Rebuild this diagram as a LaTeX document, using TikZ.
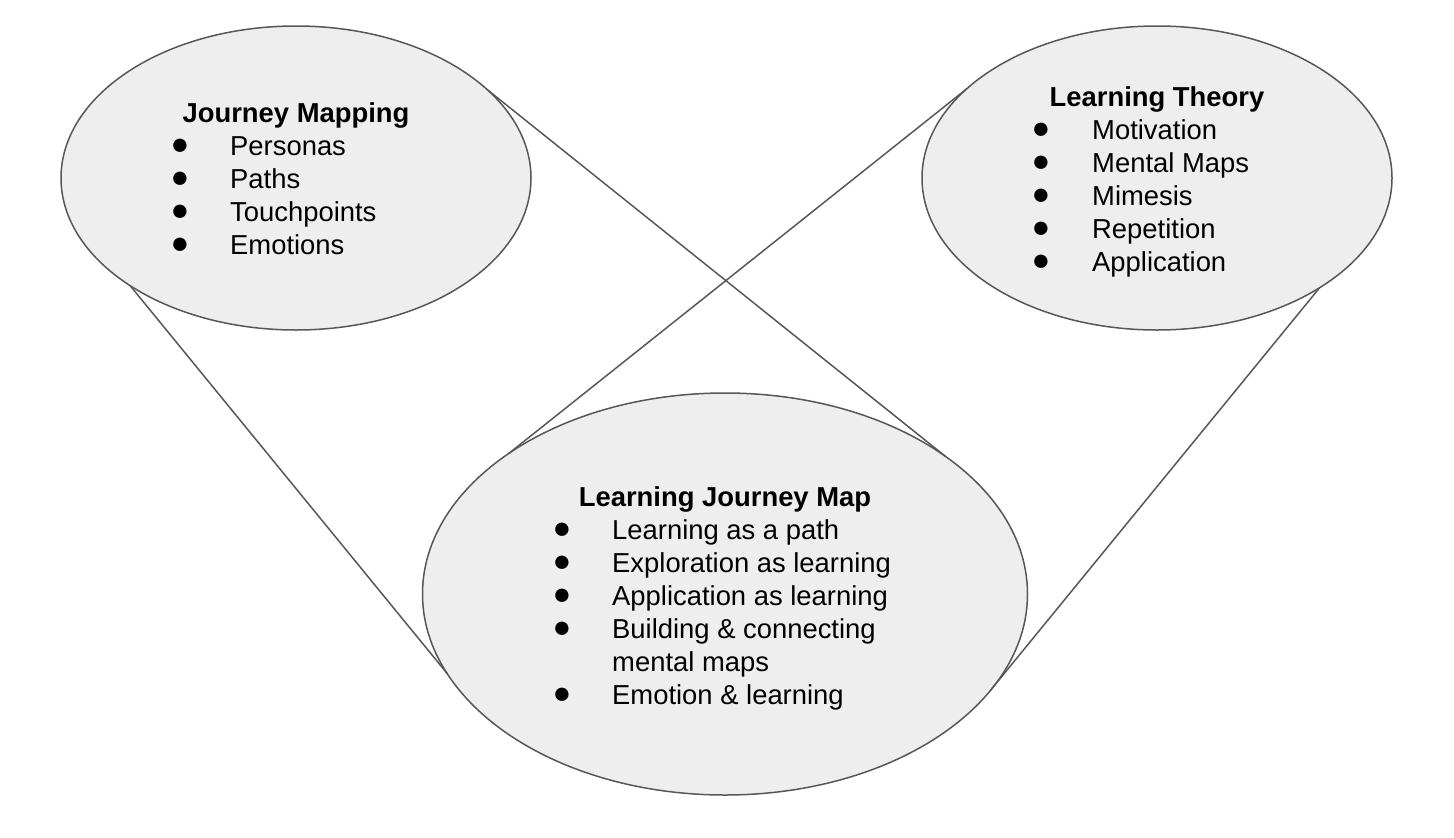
\documentclass[tikz,border=0pt]{standalone}
\usepackage{fontspec}
\setmainfont{Liberation Sans}
\usetikzlibrary{shapes.geometric}
\definecolor{ellfill}{HTML}{EEEEEE}
\definecolor{ellline}{HTML}{575757}
\tikzset{
  bubble/.style={ellipse, draw=ellline, fill=ellfill, line width=1.5pt, inner sep=0pt, outer sep=0pt},
  link/.style={draw=ellline, line width=1.5pt},
  title/.style={anchor=base, font=\fontsize{27.4}{33}\selectfont\bfseries, inner sep=0pt},
  item/.style={anchor=base west, font=\fontsize{27.4}{33}\selectfont, inner sep=0pt, align=left},
  dot/.style={anchor=base, font=\fontsize{31}{33}\selectfont, inner sep=0pt, yshift=1pt},
}
\begin{document}
\begin{tikzpicture}[x=1pt,y=-1pt]
\useasboundingbox (0,0) rectangle (1454,838);
\node[bubble, minimum width=470, minimum height=304] (jm) at (296,178) {};
\node[bubble, minimum width=470, minimum height=304] (lt) at (1157,178) {};
\node[bubble, minimum width=605, minimum height=402] (ljm) at (725,594) {};
\draw[link] (jm.213.4) -- (ljm.196);
\draw[link] (jm.25.4) -- (ljm.32.7);
\draw[link] (lt.155.2) -- (ljm.147.3);
\draw[link] (lt.326.7) -- (ljm.340.4);
% Journey Mapping
\node[title] (jmt) at (296,122) {Journey Mapping};
\node[dot] (jmd1) at (180,155) {●};
\node[item] (jmi1) at (230,155) {Personas};
\node[dot] (jmd2) at (180,188) {●};
\node[item] (jmi2) at (230,188) {Paths};
\node[dot] (jmd3) at (180,221) {●};
\node[item] (jmi3) at (230,221) {Touchpoints};
\node[dot] (jmd4) at (180,254) {●};
\node[item] (jmi4) at (230,254) {Emotions};
% Learning Theory
\node[title] (ltt) at (1157,106) {Learning Theory};
\node[dot] (ltd1) at (1041,139) {●};
\node[item] (lti1) at (1092,139) {Motivation};
\node[dot] (ltd2) at (1041,172) {●};
\node[item] (lti2) at (1092,172) {Mental Maps};
\node[dot] (ltd3) at (1041,205) {●};
\node[item] (lti3) at (1092,205) {Mimesis};
\node[dot] (ltd4) at (1041,238) {●};
\node[item] (lti4) at (1092,238) {Repetition};
\node[dot] (ltd5) at (1041,271) {●};
\node[item] (lti5) at (1092,271) {Application};
% Learning Journey Map
\node[title] (ljmt) at (725,506) {Learning Journey Map};
\node[dot] (ljmd1) at (562,539) {●};
\node[item] (ljmi1) at (612,539) {Learning as a path};
\node[dot] (ljmd2) at (562,572) {●};
\node[item] (ljmi2) at (612,572) {Exploration as learning};
\node[dot] (ljmd3) at (562,605) {●};
\node[item] (ljmi3) at (612,605) {Application as learning};
\node[dot] (ljmd4) at (562,638) {●};
\node[item] (ljmi4) at (612,638) {Building \& connecting};
\node[item] (ljmi4b) at (612,671) {mental maps};
\node[dot] (ljmd5) at (562,704) {●};
\node[item] (ljmi5) at (612,704) {Emotion \& learning};
\end{tikzpicture}
\end{document}
